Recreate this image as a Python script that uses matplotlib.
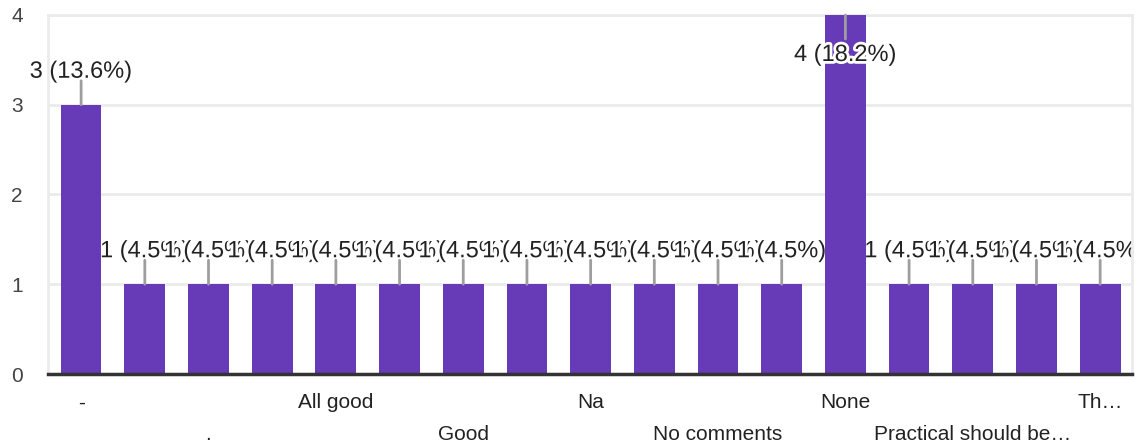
import matplotlib
matplotlib.use("Agg")
import matplotlib.pyplot as plt
import matplotlib.patheffects as pe
from matplotlib.transforms import Bbox

plt.rcParams["font.family"] = ["Liberation Sans", "DejaVu Sans"]

# responses (only every other category name is shown on the axis)
categories = [
    "-", "", ".", "", "All good", "", "Good", "", "Na", "",
    "No comments", "", "None", "", "Practical should be…", "", "Th…",
]
counts = [3, 1, 1, 1, 1, 1, 1, 1, 1, 1, 1, 1, 4, 1, 1, 1, 1]
y_ticks = [0, 1, 2, 3, 4]

BAR = "#673ab7"
total = sum(counts)
x = list(range(len(counts)))

fig = plt.figure(figsize=(11.41, 4.48), dpi=100)
ax = fig.add_axes([48 / 1141, 74 / 448, (1132 - 48) / 1141, (374 - 15) / 448])

ax.bar(x, counts, width=0.64, color=BAR, zorder=3)
ax.set_xlim(-0.52, len(counts) - 0.5)
ax.set_ylim(0, max(y_ticks))

ax.set_yticks(y_ticks)
ax.tick_params(axis="y", length=0, pad=18, labelsize=15, labelcolor="#444444")
ax.grid(axis="y", color="#ebebeb", lw=2, zorder=0)

shown = x[::2]
ax.set_xticks(shown)
ax.set_xticklabels([categories[i] for i in shown], fontsize=15, color="#222222")
ax.tick_params(axis="x", length=0)
for k, tick in enumerate(ax.xaxis.get_major_ticks()):
    tick.set_pad(14 if k % 2 == 0 else 37)

for side in ("left", "right", "top"):
    ax.spines[side].set_color("#ebebeb")
    ax.spines[side].set_linewidth(2)
ax.spines["bottom"].set_color("#333333")
ax.spines["bottom"].set_linewidth(2.5)
ax.spines["bottom"].set_zorder(4)

# value labels get cut at the right edge of the plot, like the original
clip = Bbox([[0, 0], [1132, 448]])
halo = [pe.withStroke(linewidth=4, foreground="white")]
ymax = max(y_ticks)
for i, v in enumerate(counts):
    inside = v >= ymax
    sign = -1 if inside else 1
    ax.annotate("", xy=(i, v), xytext=(0, sign * 24), textcoords="offset pixels",
                arrowprops=dict(arrowstyle="-", color="#9e9e9e", lw=2,
                                shrinkA=0, shrinkB=0), zorder=5)
    label = ax.annotate(f"{v} ({v / total * 100:.1f}%)", xy=(i, v),
                        xytext=(0, -40 if inside else 33), textcoords="offset pixels",
                        ha="center", va="center", fontsize=17, color="#222222",
                        path_effects=halo, zorder=6 if inside else 2)
    label.set_clip_box(clip)
    label.set_clip_on(True)

fig.savefig("out.png", dpi=100)
